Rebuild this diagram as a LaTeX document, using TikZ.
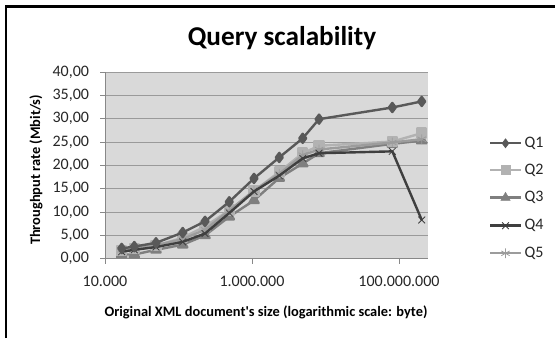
\documentclass[tikz,border=0pt]{standalone}
\usepackage{fontspec}
\setmainfont{Carlito}
\usetikzlibrary{plotmarks}

\definecolor{ink}{HTML}{000000}
\definecolor{labelgray}{HTML}{262626}
\definecolor{plotbg}{HTML}{D9D9D9}
\definecolor{gridgray}{HTML}{9A9A9A}
\definecolor{axisgray}{HTML}{888888}
\definecolor{qone}{HTML}{595959}
\definecolor{qtwo}{HTML}{B2B2B2}
\definecolor{qthree}{HTML}{7F7F7F}
\definecolor{qfour}{HTML}{3F3F3F}
\definecolor{qfive}{HTML}{9C9C9C}

\begin{document}
\begin{tikzpicture}[
  x=0.75pt,
  y=0.75pt,
  ticklabel/.style={font=\fontsize{12}{14}\selectfont,text=labelgray},
  axistitle/.style={font=\bfseries\fontsize{10.8}{12}\selectfont,text=ink},
  gridline/.style={draw=gridgray,line width=.6pt},
  axisline/.style={draw=axisgray,line width=.6pt},
  series/.style={line width=1.8pt,line join=round},
  legtext/.style={font=\fontsize{12}{14}\selectfont,text=labelgray,anchor=west}
]
\useasboundingbox (0,0) rectangle (555,338);

% outer frame (only top and left edge are visible)
\draw[ink,line width=1.7pt] (6,0) -- (6,331.5) -- (555,331.5);

\node[font=\bfseries\fontsize{20.4}{23}\selectfont,text=ink] (title)
  at (282,300) {Query scalability};

% plot area: x = log10(size)-4, y = throughput
\begin{scope}[shift={(105,79.3)},x=55.125pt,y=3.5pt]
\fill[plotbg] (0,0) rectangle (4.394,40);
\draw[gridline] (0,5) -- (4.394,5);
\draw[gridline] (0,10) -- (4.394,10);
\draw[gridline] (0,15) -- (4.394,15);
\draw[gridline] (0,20) -- (4.394,20);
\draw[gridline] (0,25) -- (4.394,25);
\draw[gridline] (0,30) -- (4.394,30);
\draw[gridline] (0,35) -- (4.394,35);
\draw[gridline] (0,40) -- (4.394,40);
\draw[axisline] (0,40) -- (0,0) -- (4.394,0);

% axis ticks
\draw[axisline] (0,0) -- ++(-3.75pt,0);
\draw[axisline] (0,5) -- ++(-3.75pt,0);
\draw[axisline] (0,10) -- ++(-3.75pt,0);
\draw[axisline] (0,15) -- ++(-3.75pt,0);
\draw[axisline] (0,20) -- ++(-3.75pt,0);
\draw[axisline] (0,25) -- ++(-3.75pt,0);
\draw[axisline] (0,30) -- ++(-3.75pt,0);
\draw[axisline] (0,35) -- ++(-3.75pt,0);
\draw[axisline] (0,40) -- ++(-3.75pt,0);
\draw[axisline] (0,0) -- ++(0,-3.75pt);
\draw[axisline] (2,0) -- ++(0,-3.75pt);
\draw[axisline] (4,0) -- ++(0,-3.75pt);

\node[ticklabel,anchor=east] (ylab0) at ([xshift=-8.5pt]0,0) {0,00};
\node[ticklabel,anchor=east] (ylab5) at ([xshift=-8.5pt]0,5) {5,00};
\node[ticklabel,anchor=east] (ylab10) at ([xshift=-8.5pt]0,10) {10,00};
\node[ticklabel,anchor=east] (ylab15) at ([xshift=-8.5pt]0,15) {15,00};
\node[ticklabel,anchor=east] (ylab20) at ([xshift=-8.5pt]0,20) {20,00};
\node[ticklabel,anchor=east] (ylab25) at ([xshift=-8.5pt]0,25) {25,00};
\node[ticklabel,anchor=east] (ylab30) at ([xshift=-8.5pt]0,30) {30,00};
\node[ticklabel,anchor=east] (ylab35) at ([xshift=-8.5pt]0,35) {35,00};
\node[ticklabel,anchor=east] (ylab40) at ([xshift=-8.5pt]0,40) {40,00};

\node[ticklabel] (xlab4) at ([yshift=-17pt]0,0) {10.000};
\node[ticklabel] (xlab6) at ([yshift=-17pt]2,0) {1.000.000};
\node[ticklabel] (xlab8) at ([yshift=-17pt]4,0) {100.000.000};

% measured series
\draw[series,qthree] plot[mark=triangle*,mark size=4pt,mark options={fill=qthree,draw=qthree}]
  coordinates {(0.227,0.9) (0.399,0.9) (0.694,1.9) (1.057,3.0) (1.361,5.0) (1.691,9.0)
  (2.027,12.5) (2.371,17.3) (2.690,20.4) (2.912,22.6) (3.909,24.6) (4.309,25.3)};
\draw[series,qtwo] plot[mark=square*,mark size=3.4pt,mark options={fill=qtwo,draw=qtwo}]
  coordinates {(0.227,1.8) (0.399,2.2) (0.694,2.8) (1.057,4.5) (1.361,6.9) (1.691,10.4)
  (2.027,14.5) (2.371,18.6) (2.690,22.6) (2.912,24.2) (3.909,25.1) (4.309,26.9)};
\draw[series,qfive] plot[mark=asterisk,mark size=3.6pt,mark options={line width=.6pt}]
  coordinates {(0.227,1.9) (0.399,2.3) (0.694,2.9) (1.057,4.2) (1.361,6.2) (1.691,10.3)
  (2.027,14.6) (2.371,18.2) (2.690,22.2) (2.912,23.4) (3.909,24.9) (4.309,25.6)};
\draw[series,qfour] plot[mark=x,mark size=3.6pt,mark options={line width=.6pt}]
  coordinates {(0.227,1.5) (0.399,1.9) (0.694,2.5) (1.057,3.6) (1.361,5.4) (1.691,9.8)
  (2.027,14.4) (2.371,17.8) (2.690,21.5) (2.912,22.6) (3.909,23.0) (4.309,8.3)};
\draw[series,qone] plot[mark=diamond*,mark size=3.4pt,mark options={fill=qone,draw=qone}]
  coordinates {(0.227,2.2) (0.399,2.6) (0.694,3.4) (1.057,5.6) (1.361,8.0) (1.691,12.2)
  (2.027,17.2) (2.371,21.7) (2.690,25.8) (2.912,29.9) (3.909,32.4) (4.309,33.7)};
\end{scope}

\node[axistitle,rotate=90] (ytitle) at (36,168) {Throughput rate (Mbit/s)};
\node[axistitle] (xtitle) at (266,25.3) {Original XML document\textquotesingle s size (logarithmic scale: byte)};

% legend
\draw[series,qone] (490,194.7) -- (521,194.7);
\path plot[mark=diamond*,mark size=3.4pt,mark options={fill=qone,draw=qone}] coordinates {(505.5,194.7)};
\node[legtext] (legq1) at (520,194.7) {Q1};
\draw[series,qtwo] (490,168) -- (521,168);
\path plot[mark=square*,mark size=3.4pt,mark options={fill=qtwo,draw=qtwo}] coordinates {(505.5,168)};
\node[legtext] (legq2) at (520,168) {Q2};
\draw[series,qthree] (490,140.3) -- (521,140.3);
\path plot[mark=triangle*,mark size=4pt,mark options={fill=qthree,draw=qthree}] coordinates {(505.5,140.3)};
\node[legtext] (legq3) at (520,140.3) {Q3};
\draw[series,qfour] (490,112.3) -- (521,112.3);
\path plot[mark=x,mark size=3.6pt,mark options={draw=qfour,line width=.6pt}] coordinates {(505.5,112.3)};
\node[legtext] (legq4) at (520,112.3) {Q4};
\draw[series,qfive] (490,84.7) -- (521,84.7);
\path plot[mark=asterisk,mark size=3.6pt,mark options={draw=qfive,line width=.6pt}] coordinates {(505.5,84.7)};
\node[legtext] (legq5) at (520,84.7) {Q5};
\end{tikzpicture}
\end{document}
